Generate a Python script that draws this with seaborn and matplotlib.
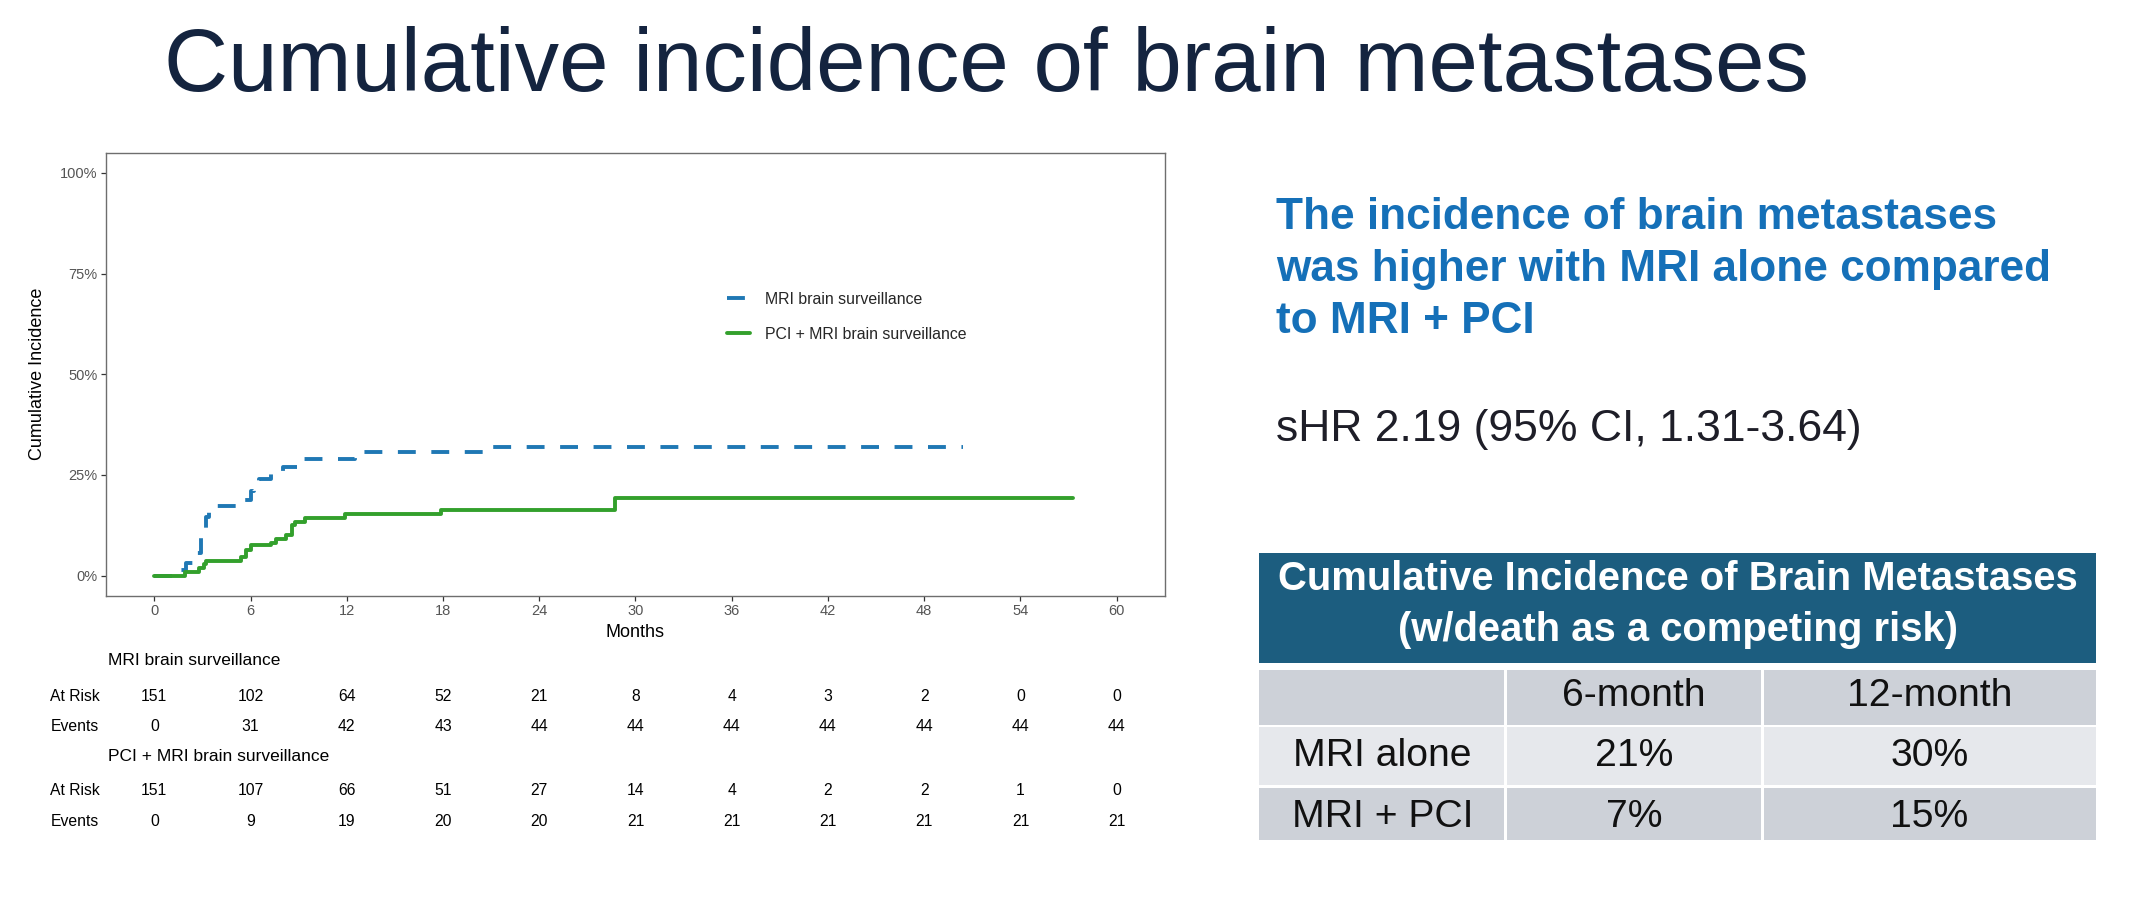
import numpy as np
import pandas as pd
import matplotlib
matplotlib.use("Agg")
import matplotlib.pyplot as plt
import matplotlib.transforms as mtransforms
from matplotlib.lines import Line2D
from matplotlib.patches import Rectangle
import seaborn as sns

# ---------------- data ----------------
groups = ["MRI brain surveillance", "PCI + MRI brain surveillance"]
group_colors = ["#1F78B4", "#33A02C"]

mri_months = [0, 1.5, 2.0, 2.6, 2.9, 3.2, 3.4, 5.1, 6.0, 6.2, 6.5, 7.3, 8.0, 8.9, 9.2, 12.5, 21.0, 50.4]
mri_incidence = [0, 0.015, 0.03, 0.055, 0.10, 0.145, 0.172, 0.188, 0.21, 0.225, 0.24, 0.259,
                 0.27, 0.28, 0.289, 0.306, 0.32, 0.32]
pci_months = [0, 1.9, 2.8, 3.1, 3.2, 5.4, 5.7, 6.0, 7.3, 7.6, 8.2, 8.6, 8.8, 9.4, 11.9, 17.9, 28.7, 57.3]
pci_incidence = [0, 0.008, 0.018, 0.028, 0.037, 0.047, 0.064, 0.075, 0.082, 0.090, 0.101, 0.126,
                 0.134, 0.143, 0.152, 0.164, 0.193, 0.193]

x_ticks = [0, 6, 12, 18, 24, 30, 36, 42, 48, 54, 60]
y_ticks = [0, 0.25, 0.50, 0.75, 1.00]
y_tick_labels = ["0%", "25%", "50%", "75%", "100%"]

mri_at_risk = [151, 102, 64, 52, 21, 8, 4, 3, 2, 0, 0]
mri_events = [0, 31, 42, 43, 44, 44, 44, 44, 44, 44, 44]
pci_at_risk = [151, 107, 66, 51, 27, 14, 4, 2, 2, 1, 0]
pci_events = [0, 9, 19, 20, 20, 21, 21, 21, 21, 21, 21]

title_text = "Cumulative incidence of brain metastases"
finding_lines = ["The incidence of brain metastases",
                 "was higher with MRI alone compared",
                 "to MRI + PCI"]
shr_text = "sHR 2.19 (95% CI, 1.31-3.64)"

summary_header = ["Cumulative Incidence of Brain Metastases", "(w/death as a competing risk)"]
summary_columns = ["", "6-month", "12-month"]
summary_rows = ["MRI alone", "MRI + PCI"]
summary_6m = ["21%", "7%"]
summary_12m = ["30%", "15%"]

# ---------------- style ----------------
sns.set_style("white")
plt.rcParams["font.family"] = ["Liberation Sans", "DejaVu Sans"]

W, H = 2133, 905
fig = plt.figure(figsize=(W / 100, H / 100), dpi=100)
fig.patch.set_facecolor("white")

# overlay axes in pixel coordinates for slide texts / table
ov = fig.add_axes([0, 0, 1, 1])
ov.set_xlim(0, W)
ov.set_ylim(H, 0)
ov.axis("off")

# main plot axes
ax_left, ax_right = 106.2, 1164.8
ax_top, ax_bottom = 152.8, 595.7
ax = fig.add_axes([ax_left / W, 1 - ax_bottom / H, (ax_right - ax_left) / W, (ax_bottom - ax_top) / H])

df = pd.concat([
    pd.DataFrame({"month": mri_months, "incidence": mri_incidence, "group": groups[0]}),
    pd.DataFrame({"month": pci_months, "incidence": pci_incidence, "group": groups[1]}),
], ignore_index=True)

lw = 2.8
dash_pattern = (4.6, 4.0)
sns.lineplot(data=df, x="month", y="incidence", hue="group", style="group",
             hue_order=groups, style_order=groups,
             palette=dict(zip(groups, group_colors)),
             dashes={groups[0]: dash_pattern, groups[1]: ""},
             drawstyle="steps-post", linewidth=lw, estimator=None, sort=False,
             legend=False, ax=ax)

ax.set_xlim(-3, 63)
ax.set_ylim(-0.05, 1.05)
ax.set_xticks(x_ticks)
ax.set_xticklabels([str(t) for t in x_ticks])
ax.set_yticks(y_ticks)
ax.set_yticklabels(y_tick_labels)
ax.tick_params(axis="both", which="major", direction="out", length=3.6, width=0.9,
               color="#333333", labelcolor="#555555", labelsize=10.5, pad=2.5,
               bottom=True, left=True)
for sp in ax.spines.values():
    sp.set_color("#6E6E6E")
    sp.set_linewidth(1.0)
ax.set_xlabel("Months", fontsize=13, color="black", labelpad=4)
ax.set_ylabel("Cumulative Incidence", fontsize=13, color="black")
ax.yaxis.set_label_coords(-(ax_left - 45.5) / (ax_right - ax_left), 0.5)

handles = [Line2D([], [], color=group_colors[0], lw=lw, linestyle=(0, dash_pattern)),
           Line2D([], [], color=group_colors[1], lw=lw, linestyle="-")]
ax.legend(handles, groups, loc="upper left",
          bbox_to_anchor=((726.7 - ax_left) / (ax_right - ax_left), (ax_bottom - 292) / (ax_bottom - ax_top)),
          frameon=False, fontsize=11.4, handlelength=1.45, handletextpad=0.95,
          labelspacing=1.25, borderpad=0, borderaxespad=0)

# ---------------- risk table ----------------
tr = mtransforms.blended_transform_factory(ax.transData, ov.transData)
risk_font = 11.3
blocks = [
    (groups[0], 660.7, [("At Risk", 696, mri_at_risk), ("Events", 726.7, mri_events)]),
    (groups[1], 756, [("At Risk", 790.7, pci_at_risk), ("Events", 821, pci_events)]),
]
for gname, gy, rows in blocks:
    ov.text(108.5, gy, gname, fontsize=12.5, color="black", ha="left", va="center")
    for lab, ry, vals in rows:
        ov.text(50.4, ry, lab, fontsize=risk_font, color="black", ha="left", va="center")
        for t, v in zip(x_ticks, vals):
            ax.text(t, ry, str(v), transform=tr, fontsize=risk_font, color="black",
                    ha="center", va="center", clip_on=False)

# ---------------- slide texts ----------------
ov.text(164, 91, title_text, fontsize=64, color="#14243F", ha="left", va="baseline")
for txt, yb in zip(finding_lines, [228.5, 280.5, 332.5]):
    ov.text(1276, yb, txt, fontsize=31.8, fontweight="bold", color="#1570B8",
            ha="left", va="baseline")
ov.text(1276, 441, shr_text, fontsize=32, color="#1E1E28", ha="left", va="baseline")

# ---------------- summary table ----------------
header_color = "#1C5D7F"
row_colors = ["#CDD1D8", "#E6E8EC", "#CDD1D8"]
col_edges = [1259.3, 1505.7, 1762.7, 2096.0]
header_box = (553.3, 663.3)
row_edges = [(670.0, 725.0), (726.8, 785.0), (787.7, 840.0)]
ov.add_patch(Rectangle((col_edges[0], header_box[0]), col_edges[-1] - col_edges[0],
                       header_box[1] - header_box[0], facecolor=header_color, edgecolor="none"))
for txt, yb in zip(summary_header, [590, 640.5]):
    ov.text((col_edges[0] + col_edges[-1]) / 2, yb, txt, fontsize=28.8, fontweight="bold",
            color="white", ha="center", va="baseline")

cells = [summary_columns,
         [summary_rows[0], summary_6m[0], summary_12m[0]],
         [summary_rows[1], summary_6m[1], summary_12m[1]]]
baselines = [705.5, 765.5, 826.7]
for r, ((y0, y1), rc) in enumerate(zip(row_edges, row_colors)):
    for c in range(3):
        x0, x1 = col_edges[c], col_edges[c + 1]
        ov.add_patch(Rectangle((x0 + (1.5 if c > 0 else 0), y0),
                               (x1 - x0) - (1.5 if c > 0 else 0) - (1.5 if c < 2 else 0), y1 - y0,
                               facecolor=rc, edgecolor="none"))
        if cells[r][c]:
            ov.text((x0 + x1) / 2, baselines[r], cells[r][c], fontsize=28.2, color="#111111",
                    ha="center", va="baseline")

fig.savefig("out.png", dpi=100, facecolor="white")
